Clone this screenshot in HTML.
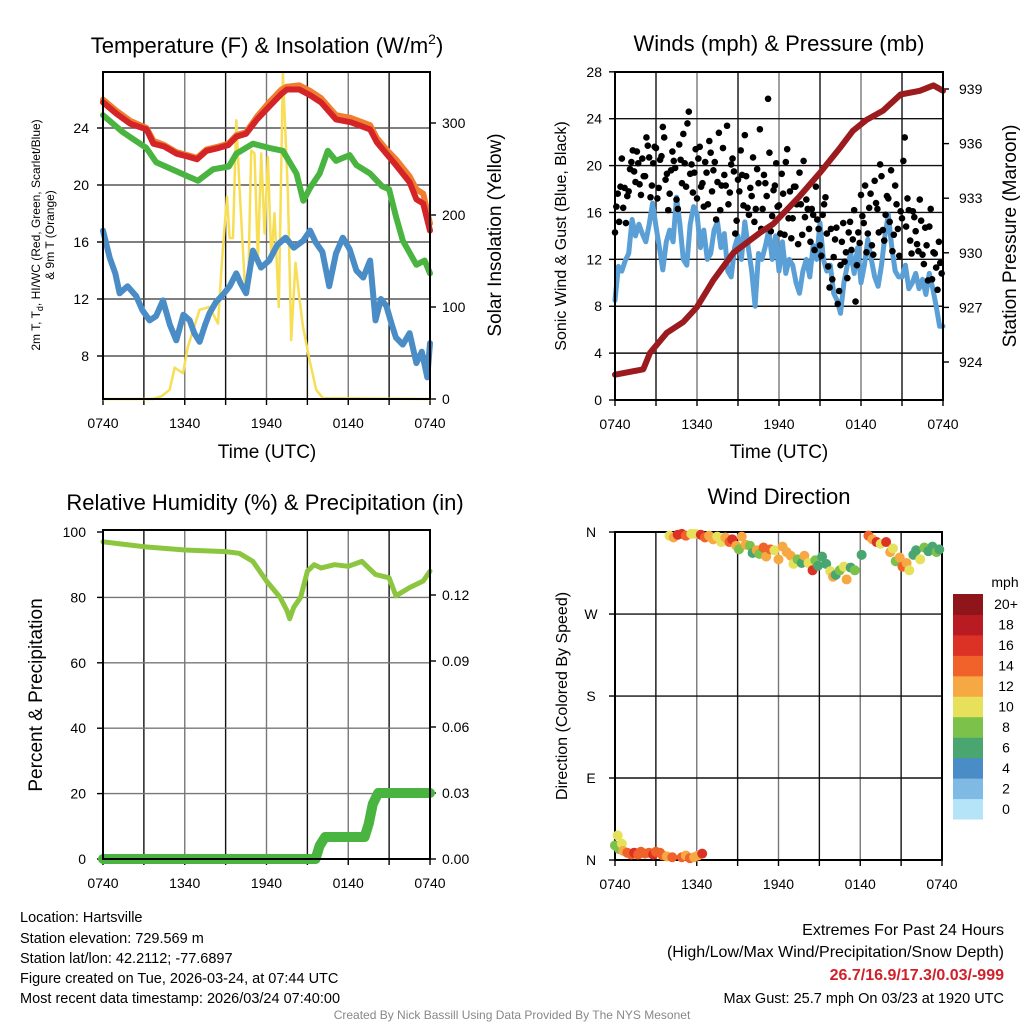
<!DOCTYPE html>
<html><head><meta charset="utf-8"><style>
html,body{margin:0;padding:0;background:#fff}
svg{display:block;font-family:"Liberation Sans",Arial,sans-serif}
</style></head><body>
<svg id="chart" width="1024" height="1024" viewBox="0 0 1024 1024" xmlns="http://www.w3.org/2000/svg">
<g id="static">
<text x="267" y="53" font-size="22" text-anchor="middle">Temperature (F) &amp; Insolation (W/m<tspan font-size="14" dy="-9">2</tspan><tspan dy="9">)</tspan></text>
<text x="779" y="51" font-size="22" text-anchor="middle">Winds (mph) &amp; Pressure (mb)</text>
<text x="265" y="510" font-size="22" text-anchor="middle">Relative Humidity (%) &amp; Precipitation (in)</text>
<text x="779" y="504" font-size="22" text-anchor="middle">Wind Direction</text>
<text x="267" y="458" font-size="19" text-anchor="middle">Time (UTC)</text>
<text x="779" y="458" font-size="19" text-anchor="middle">Time (UTC)</text>
<text transform="translate(40,235) rotate(-90)" font-size="12" text-anchor="middle">2m T, T<tspan font-size="9" dy="3">d</tspan><tspan dy="-3">, HI/WC (Red, Green, Scarlet/Blue)</tspan></text>
<text transform="translate(54,235) rotate(-90)" font-size="12" text-anchor="middle">&amp; 9m T (Orange)</text>
<text transform="translate(501,235) rotate(-90)" font-size="19" text-anchor="middle">Solar Insolation (Yellow)</text>
<text transform="translate(566,236) rotate(-90)" font-size="16" text-anchor="middle">Sonic Wind &amp; Gust (Blue, Black)</text>
<text transform="translate(1016,236) rotate(-90)" font-size="19" text-anchor="middle">Station Pressure (Maroon)</text>
<text transform="translate(42,695) rotate(-90)" font-size="19" text-anchor="middle">Percent &amp; Precipitation</text>
<text transform="translate(567,696) rotate(-90)" font-size="16" text-anchor="middle">Direction (Colored By Speed)</text>
<text x="1005" y="587" font-size="14" text-anchor="middle">mph</text>
<g font-size="14.5">
<text x="20" y="922">Location: Hartsville</text>
<text x="20" y="943">Station elevation: 729.569 m</text>
<text x="20" y="963">Station lat/lon: 42.2112; -77.6897</text>
<text x="20" y="983">Figure created on Tue, 2026-03-24, at 07:44 UTC</text>
<text x="20" y="1003">Most recent data timestamp: 2026/03/24 07:40:00</text>
</g>
<text x="1004" y="935" font-size="16" text-anchor="end">Extremes For Past 24 Hours</text>
<text x="1004" y="957" font-size="16" text-anchor="end">(High/Low/Max Wind/Precipitation/Snow Depth)</text>
<text x="1004" y="980" font-size="16" font-weight="bold" fill="#d0202a" text-anchor="end">26.7/16.9/17.3/0.03/-999</text>
<text x="1004" y="1003" font-size="14.5" text-anchor="end">Max Gust: 25.7 mph On 03/23 at 1920 UTC</text>
<text x="512" y="1019" font-size="12" fill="#888" text-anchor="middle">Created By Nick Bassill Using Data Provided By The NYS Mesonet</text>
</g>
</svg>
<script>
// ---- data ----
const xTickLabels = ["0740","1340","1940","0140","0740"];
const tempTickLabels = [8,12,16,20,24];
const solarTickLabels = [0,100,200,300];
const windTickLabels = [0,4,8,12,16,20,24,28];
const pressTickLabels = [924,927,930,933,936,939];
const rhTickLabels = [0,20,40,60,80,100];
const precipTickLabels = ["0.00","0.03","0.06","0.09","0.12"];
const dirTickLabels = ["N","E","S","W","N"];
const speedBinLabels = ["0","2","4","6","8","10","12","14","16","18","20+"];
const speedBinColors = ["#b5e3f8","#7fbae4","#4a8cc6","#4aa671","#7cc24a","#e6e05b","#f6a943","#f0622a","#dc3226","#b81b22","#8e1519"];

const redHours = [0,1,2,3.2,3.7,4.5,5.4,6.2,6.9,7.6,8.5,9.2,9.8,10.5,11.3,12.2,13.1,13.5,14.4,15.2,16,17.1,18.2,19.6,20.1,20.8,21.5,22.5,23,23.5,24];
const redTemps = [25.8,25.0,24.3,23.9,22.9,22.7,22.2,22.0,21.8,22.4,22.6,22.8,23.4,23.6,24.6,25.5,26.4,26.7,26.7,26.3,25.8,24.6,24.4,23.9,23.0,22.2,21.4,20.2,19.0,18.7,16.8];
const orangeTemps = [26.0,25.2,24.5,24.0,23.1,22.8,22.3,22.1,21.9,22.5,22.7,22.9,23.5,23.7,24.8,25.8,26.7,26.9,27.0,26.6,26.1,24.9,24.7,24.2,23.3,22.5,21.8,20.6,19.7,19.4,17.3];
const greenHours = [0,1.47,3.18,3.9,6.23,6.97,8.07,9.24,9.78,11,12.2,13.2,14.2,14.7,15.2,15.9,16.5,17.1,18.1,18.6,19.6,20.5,21,21.5,22,23,23.6,24];
const greenTemps = [24.9,23.7,22.6,21.6,20.6,20.3,21.1,21.3,22.2,22.9,22.6,22.4,20.8,18.9,19.8,20.8,22.4,21.7,22.1,21.4,20.8,19.9,19.7,17.8,16.1,14.4,14.7,13.8];
const dewHours = [0,0.49,0.9,1.22,1.8,2.44,2.9,3.42,3.9,4.4,4.9,5.38,5.9,6.36,6.7,7.09,7.5,7.82,8.3,8.8,9.3,9.78,10.1,10.5,11,11.6,12.2,12.8,13.4,14,14.7,15.2,15.6,16.1,16.6,17.1,17.6,18.1,18.6,19.1,19.6,20,20.4,20.8,21.2,21.5,22,22.5,23,23.4,23.8,24];
const dewTemps = [16.8,14.9,13.8,12.4,12.9,12.2,11.2,10.5,10.8,11.9,10.2,9.1,10.9,10.5,9.6,9.0,10.2,11.0,11.8,12.3,12.9,13.8,13.1,12.4,15.4,14.2,14.7,15.8,16.3,15.6,16.1,16.8,16.0,15.3,12.9,15.2,16.3,15.5,14.0,13.5,14.7,10.5,12.0,11.5,10.2,9.3,8.8,9.6,7.5,8.3,6.5,8.9];
const solarHours = [0,3.67,4.3,4.89,5.26,5.87,6.23,7.09,7.82,8.44,8.75,9.1,9.29,9.54,9.78,10.02,10.39,10.64,10.88,11.12,11.37,11.61,11.86,12.1,12.35,12.59,12.9,13.2,13.57,13.81,14.13,14.43,14.67,15.16,15.65,16.14,24];
const solarValues = [0,0,3,10,34,28,57,97,100,82,154,220,175,175,303,230,129,115,270,267,151,267,180,263,151,202,100,354,224,64,148,108,79,42,10,1,0];

const pressHours = [0,2.07,2.56,3.78,5.0,5.98,7.2,8.66,10.6,11.6,13.5,15.0,16.5,17.4,18.4,19.6,20.9,22.3,23.3,24];
const pressValues = [923.3,923.6,924.5,925.6,926.2,927.0,928.5,930.0,931.1,931.6,933.1,934.4,935.8,936.7,937.3,937.8,938.7,938.9,939.2,938.9];
const windStepHours = 0.25;
const windValues = [8.5,11.4,11,11.9,12.5,15.4,14,15,14.2,13.5,15,16.8,14.8,13,11.1,13.5,14.5,13.5,17.3,15,12,11.5,15,16.5,15.9,13,14.5,12,12.5,14.5,15.2,13,14.2,11,10.5,13,14,12,15.2,13,11,8,12.5,12,13.1,14.5,12,14,11,13.5,10.8,12,11.5,10,9.1,11,12,10.5,13.2,12,15.1,12,11,11.5,9.1,8.5,7.4,10,11.5,12.5,10.8,13,10,11.5,13.7,12,10.5,9.7,11.5,14,15.8,13,11,10.5,10.5,11.5,9.5,10,10.8,9.5,10.3,9,10.8,9.5,8,6.3,6.3];
const gustStepHours = 0.2;
const gustValues = [14.3,17.6,18.2,16.4,15.1,17.8,20.3,19.5,21.2,18.4,20.6,19.1,21.7,17.3,20.2,21.5,18.1,20.8,22.4,19.3,17.6,21.2,19.8,16.3,20.5,22.7,18.2,24.6,20.1,19.4,17.2,21.6,18.5,20.3,16.7,21.1,19.6,15.4,22.8,18.3,19.2,23.4,17.7,20.6,14.2,18.8,21.3,16.6,19.1,15.8,17.4,15.2,19.7,23.1,16.3,18.5,25.7,14.4,17.9,20.2,16.6,19.3,14.1,21.4,17.8,15.5,18.2,13.3,16.7,20.4,17.1,14.6,16.3,12.8,15.4,13.2,15.8,17.3,11.4,14.6,12.2,14.7,9.3,13.5,11.8,10.4,15.2,13.7,8.4,14.3,17.5,15.1,12.6,16.4,13.2,18.7,16.3,20.1,14.5,15.8,17.2,19.6,14.1,16.7,12.3,15.5,22.4,17.2,13.6,16.1,14.4,12.7,15.3,11.6,13.2,14.8,10.3,12.5,9.4,11.7];
const gustValues2 = [16.5,15.2,20.6,18.1,17.4,19.7,21.3,18.6,20.2,17.5,19.1,22.4,20.7,18.3,21.6,17.2,20.5,23.3,18.8,16.2,19.6,20.4,17.1,21.8,18.5,20.2,23.6,19.3,17.7,21.4,20.6,18.2,16.5,19.4,22.1,17.8,20.3,18.6,16.2,21.5,18.3,16.7,20.1,19.5,15.3,17.8,19.2,22.6,16.4,18.1,20.7,16.3,18.5,14.6,19.2,17.4,21.1,15.7,18.3,16.5,14.2,17.6,20.3,15.5,13.8,18.2,16.7,19.4,14.1,15.6,16.3,13.5,15.8,18.2,14.6,12.3,16.7,14.2,9.6,10.3,13.7,8.2,11.5,15.1,12.6,14.3,12.8,16.2,11.5,13.4,15.7,18.3,14.2,17.6,12.4,16.8,14.3,19.1,13.6,17.4,15.2,12.7,18.3,14.6,16.1,20.4,14.8,16.2,12.5,15.6,13.3,17.1,12.4,14.7,10.2,16.3,12.6,11.3,13.5,10.8];
const rhHours = [0,3,6,9,10,11,12,13,13.5,13.7,14,14.5,15,15.5,16,17,18,19,20,21,21.5,22.5,23.5,24];
const rhValues = [97,95.5,94.5,94,93.5,91,85,80,76,73.5,77,80,88,90,89,90,89.5,91,87,86,80.5,83,85,88];
const precipHours = [0,15.6,15.9,16.3,19.2,19.5,19.8,20.2,24];
const precipValues = [0,0,0.006,0.01,0.01,0.016,0.025,0.03,0.03];

const dirHours = [0,0.2,0.3,0.5,0.6,0.9,1.2,1.4,1.7,1.9,2.2,2.5,2.8,3.0,3.3,3.5,3.8,4.2,4.9,5.2,5.5,5.8,6.1,6.4,
 4.0,4.3,4.6,4.9,5.2,5.6,5.9,6.3,6.6,6.9,7.2,7.5,7.8,8.1,8.4,8.6,8.9,9.1,9.3,9.6,9.9,10.1,10.4,10.6,10.9,11.1,11.4,11.7,12.0,12.3,12.6,12.9,13.1,13.4,13.7,13.9,14.2,14.5,14.7,14.9,15.2,15.5,15.8,16.0,16.2,16.5,16.8,17.0,17.3,17.6,18.1,18.6,18.9,19.2,19.5,19.9,20.2,20.4,20.6,20.9,21.1,21.4,21.6,21.9,22.1,22.4,22.7,23.0,23.3,23.6,23.8];
const dirDegrees = [16,27,12,18,10,8,6,8,6,9,7,8,6,9,8,5,4,3,3,5,2,3,5,7,
 356,354,357,358,356,358,358,357,354,356,352,355,349,354,349,352,345,341,355,346,345,337,340,336,343,333,341,340,330,344,338,334,325,330,326,334,326,318,329,323,333,325,317,311,313,318,322,308,321,318,335,356,352,349,347,349,338,342,328,332,322,326,318,335,340,330,343,339,344,338,341];
const dirSpeeds = [9,10,9,10,12,14,14,17,14,15,14,14,17,14,15,14,12,14,14,12,14,12,13,17,
 10,12,16,17,14,11,10,16,14,13,12,10,10,12,15,17,12,8,12,12,9,7,12,8,15,12,15,11,12,12,12,13,10,8,7,12,10,16,8,7,7,7,10,12,7,8,10,12,7,9,6,14,12,16,10,16,12,11,8,12,15,12,10,7,7,10,8,7,6,8,6];

// ---- drawing ----
const NS = "http://www.w3.org/2000/svg";
const svg = document.getElementById("chart");
function mk(tag, attrs, parent) {
  const e = document.createElementNS(NS, tag);
  for (const k in attrs) e.setAttribute(k, attrs[k]);
  (parent || svg).appendChild(e);
  return e;
}
function txt(s, x, y, size, anchor, parent) {
  const t = mk("text", {x: x, y: y, "font-size": size, "text-anchor": anchor}, parent);
  t.textContent = s;
  return t;
}
function hx(x0, x1) { return h => x0 + (x1 - x0) * h / 24; }
function pathD(xs, ys, fx, fy) {
  return xs.map((v, i) => (i ? "L" : "M") + fx(v).toFixed(1) + " " + fy(ys[i]).toFixed(1)).join(" ");
}
function frame(x0, y0, x1, y1, name) {
  const g = mk("g", {});
  
  
  const fx = hx(x0, x1);
  for (let h = 3; h < 24; h += 3) {
    const l = mk("line", {x1: fx(h), x2: fx(h), y1: y0, y2: y1, stroke: (h % 6 === 0) ? "#777" : "#111", "stroke-width": 1.4}, g);
    
    
  }
  for (let h = 0; h <= 24; h += 3) {
    mk("line", {x1: fx(h), x2: fx(h), y1: y1, y2: y1 + 6, stroke: "#000", "stroke-width": 1.4}, g);
  }
  xTickLabels.forEach((s, i) => {
    const t = txt(s, fx(i * 6), y1 + 29, 14, "middle", g);
    
    
  });
  return {g: g, fx: fx};
}
function hgrid(g, x0, x1, y, col) {
  const l = mk("line", {x1: x0, x2: x1, y1: y, y2: y, stroke: col || "#555", "stroke-width": 1.4}, g);
  
  
}
function border(g, x0, y0, x1, y1) {
  const r = mk("rect", {x: x0, y: y0, width: x1 - x0, height: y1 - y0, fill: "none", stroke: "#000", "stroke-width": 2}, g);
  
  
}
function series(g, d, color, w, name) {
  const p = mk("path", {d: d, fill: "none", stroke: color, "stroke-width": w, "stroke-linejoin": "round", "stroke-linecap": "round"}, g);
  
  
  return p;
}

// Panel 1: temperature
(function(){
  const X0 = 103, X1 = 430, Y0 = 72, Y1 = 399;
  const f = frame(X0, Y0, X1, Y1, "temperature-panel");
  const g = f.g, fx = f.fx;
  const yT = v => 128 + (24 - v) * 14.25;
  const yS = w => 399 - w * 0.92;
  tempTickLabels.forEach(v => {
    hgrid(g, X0, X1, yT(v));
    mk("line", {x1: X0 - 6, x2: X0, y1: yT(v), y2: yT(v), stroke: "#000", "stroke-width": 1.4}, g);
    const t = txt(String(v), X0 - 14, yT(v) + 5, 14, "end", g);
    
    
  });
  solarTickLabels.forEach(v => {
    mk("line", {x1: X1, x2: X1 + 6, y1: yS(v), y2: yS(v), stroke: "#000", "stroke-width": 1.4}, g);
    const t = txt(String(v), X1 + 12, yS(v) + 5, 14, "start", g);
    
    
  });
  series(g, pathD(solarHours, solarValues, fx, yS), "#f7de55", 2.5, "insolation-line");
  series(g, pathD(dewHours, dewTemps, fx, yT), "#4a8cc6", 6, "dewpoint-line");
  series(g, pathD(greenHours, greenTemps, fx, yT), "#4ab441", 6, "heat-index-line");
  series(g, pathD(redHours, orangeTemps, fx, yT), "#f07e2e", 6, "temperature-9m-line");
  series(g, pathD(redHours, redTemps, fx, yT), "#d42428", 6, "temperature-2m-line");
  border(g, X0, Y0, X1, Y1);
})();

// Panel 2: winds
(function(){
  const X0 = 615, X1 = 943, Y0 = 72, Y1 = 400;
  const f = frame(X0, Y0, X1, Y1, "winds-panel");
  const g = f.g, fx = f.fx;
  const yW = v => 400 - v * 11.72;
  const yP = p => 362 - (p - 924) * 18.2;
  windTickLabels.forEach(v => {
    if (v > 0 && v < 28) hgrid(g, X0, X1, yW(v), "#111");
    mk("line", {x1: X0 - 6, x2: X0, y1: yW(v), y2: yW(v), stroke: "#000", "stroke-width": 1.4}, g);
    const t = txt(String(v), X0 - 13, yW(v) + 5, 14, "end", g);
    
    
  });
  pressTickLabels.forEach(v => {
    mk("line", {x1: X1, x2: X1 + 6, y1: yP(v), y2: yP(v), stroke: "#000", "stroke-width": 1.4}, g);
    const t = txt(String(v), X1 + 16, yP(v) + 5, 14, "start", g);
    
    
  });
  const wh = windValues.map((v, i) => i * windStepHours);
  series(g, pathD(wh, windValues, fx, yW), "#5a9fd6", 5, "sustained-wind-line");
  [gustValues, gustValues2].forEach((arr, k) => {
    arr.forEach((v, i) => {
      const c = mk("circle", {cx: fx(i * gustStepHours + k * 0.1), cy: yW(v), r: 3.3, fill: "#000"}, g);
      
      
    });
  });
  series(g, pathD(pressHours, pressValues, fx, yP), "#9b1b1e", 6, "pressure-line");
  border(g, X0, Y0, X1, Y1);
})();

// Panel 3: humidity
(function(){
  const X0 = 103, X1 = 430, Y0 = 530, Y1 = 859;
  const f = frame(X0, Y0, X1, Y1, "humidity-panel");
  const g = f.g, fx = f.fx;
  const yR = v => 859 - v * 3.27;
  const yPr = p => 859 - p * 2200;
  rhTickLabels.forEach(v => {
    if (v > 0 && v < 100) hgrid(g, X0, X1, yR(v), "#777");
    mk("line", {x1: X0 - 6, x2: X0, y1: yR(v), y2: yR(v), stroke: "#000", "stroke-width": 1.4}, g);
    const t = txt(String(v), X0 - 17, yR(v) + 5, 14, "end", g);
    
    
  });
  precipTickLabels.forEach(s => {
    const v = parseFloat(s);
    mk("line", {x1: X1, x2: X1 + 6, y1: yPr(v), y2: yPr(v), stroke: "#000", "stroke-width": 1.4}, g);
    const t = txt(s, X1 + 12, yPr(v) + 5, 14, "start", g);
    
    
  });
  series(g, pathD(rhHours, rhValues, fx, yR), "#8cc63f", 5, "humidity-line");
  series(g, pathD(precipHours, precipValues, fx, yPr), "#4ab441", 10, "precipitation-line");
  border(g, X0, Y0, X1, Y1);
})();

// Panel 4: direction
(function(){
  const X0 = 615, X1 = 942, Y0 = 532, Y1 = 860;
  const f = frame(X0, Y0, X1, Y1, "direction-panel");
  const g = f.g, fx = f.fx;
  const yD = d => 860 - d * 0.911;
  dirTickLabels.forEach((s, i) => {
    const y = yD(i * 90);
    if (i > 0 && i < 4) hgrid(g, X0, X1, y, "#111");
    mk("line", {x1: X0 - 6, x2: X0, y1: y, y2: y, stroke: "#000", "stroke-width": 1.4}, g);
    const t = txt(s, X0 - 24, y + 5, 14, "middle", g);
    
    
  });
  border(g, X0, Y0, X1, Y1);
  dirHours.forEach((h, i) => {
    const bin = Math.min(10, Math.floor(dirSpeeds[i] / 2));
    const c = mk("circle", {cx: fx(h), cy: yD(dirDegrees[i]), r: 5, fill: speedBinColors[bin]}, g);
    
    
  });
  const cb = mk("g", {});
  
  
  const bh = 225 / 11;
  speedBinColors.forEach((c, i) => {
    const y = 819 - (i + 1) * bh;
    const r = mk("rect", {x: 953, y: y, width: 30, height: bh + 0.5, fill: c}, cb);
    
    
    const t = txt(speedBinLabels[i], 1006, y + bh / 2 + 5, 14, "middle", cb);
    
    
  });
})();
</script>
</body></html>
